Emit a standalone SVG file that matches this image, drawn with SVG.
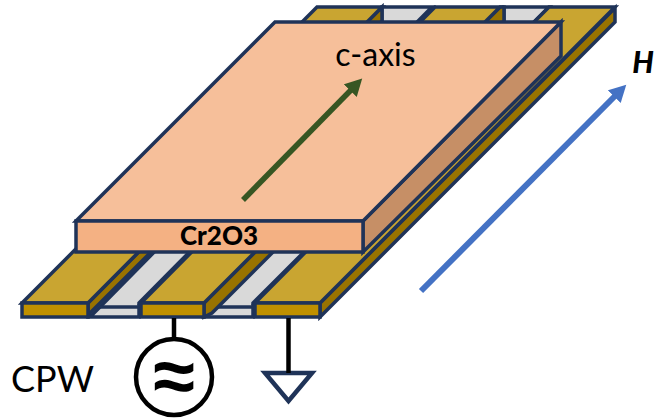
<svg xmlns="http://www.w3.org/2000/svg" width="654" height="419" viewBox="0 0 654 419">
<style>
.o{stroke:#1f3358;stroke-width:3.500;stroke-linejoin:miter}
.top{fill:#c9a531}.front{fill:#bf9000}.side{fill:#997300}.gap{fill:#d9d9d9}
.t{font-family:Lato,"Open Sans",sans-serif;fill:#000}
.w{stroke:#000;stroke-width:4.500;fill:none}
</style>
<defs>
<marker id="g" markerUnits="userSpaceOnUse" markerWidth="20" markerHeight="20" refX="1" refY="9" orient="auto"><path d="M0 0L17 9L0 18Z" fill="#375623"/></marker>
<marker id="b" markerUnits="userSpaceOnUse" markerWidth="20" markerHeight="20" refX="1" refY="9" orient="auto"><path d="M0 0L17 9L0 18Z" fill="#4472c4"/></marker>
</defs>
<g id="cpw">
<path class="o gap" d="M90 317L100 307L382 21L382 7L432 7L139 303L139 317Z"/>
<path class="o gap" d="M205 317L214 307L504 21L504 7L549 7L253 303L253 317Z"/>
<path d="M100 307H139M214 307H253" class="o" fill="none"/>
<path class="o side" d="M88 303L382 7L382 21L90 313L88 317Z"/>
<path class="o side" d="M204 303L500 7L504 7L504 21L212 313L204 317Z"/>
<path class="o side" d="M320 303L615 8L615 22L320 317Z"/>
<path class="o top" d="M22 303L317 7L382 7L88 303Z"/>
<path class="o top" d="M141 303L435 7L500 7L204 303Z"/>
<path class="o top" d="M255 303L549 7L615 7L320 303Z"/>
<rect class="o front" x="22" y="303" width="66" height="14"/>
<rect class="o front" x="141" y="303" width="63" height="14"/>
<rect class="o front" x="255" y="303" width="65" height="14"/>
<text class="t" x="11" y="392" font-size="36">CPW</text>
</g>
<g id="source">
<circle class="w" cx="174" cy="377" r="38"/>
<text x="174" y="402" font-family="Liberation Sans,sans-serif" font-size="76" font-weight="bold" text-anchor="middle" fill="#000">≈</text>
</g>
<g id="ground">
<path d="M265 373L312 373L288.500 401Z" fill="none" stroke="#1f3358" stroke-width="4.500"/>
</g>
<g id="slab">
<path class="o" fill="#c68f66" d="M363 221L561 22L561 56L363 252Z"/>
<path class="o" fill="#f6bf9a" d="M76 221L275 22L561 22L363 221Z"/>
<rect class="o" fill="#f4b183" x="76" y="221" width="287" height="31"/>
<text class="t" x="219" y="245" font-size="26" font-weight="900" text-anchor="middle">Cr2O3</text>
</g>
<g id="connectors">
<path class="w" d="M174 318V339"/>
<path class="w" d="M288.500 318V373"/>
<path d="M243 200L351 90" stroke="#375623" stroke-width="5.500" fill="none" marker-end="url(#g)"/>
<path d="M421 291L615 96" stroke="#4472c4" stroke-width="6" fill="none" marker-end="url(#b)"/>
</g>
<text class="t" x="375.500" y="66" font-size="32" text-anchor="middle">c-axis</text>
<text class="t" x="643" y="73" font-size="30" font-weight="900" font-style="italic" text-anchor="middle">H</text>
</svg>
